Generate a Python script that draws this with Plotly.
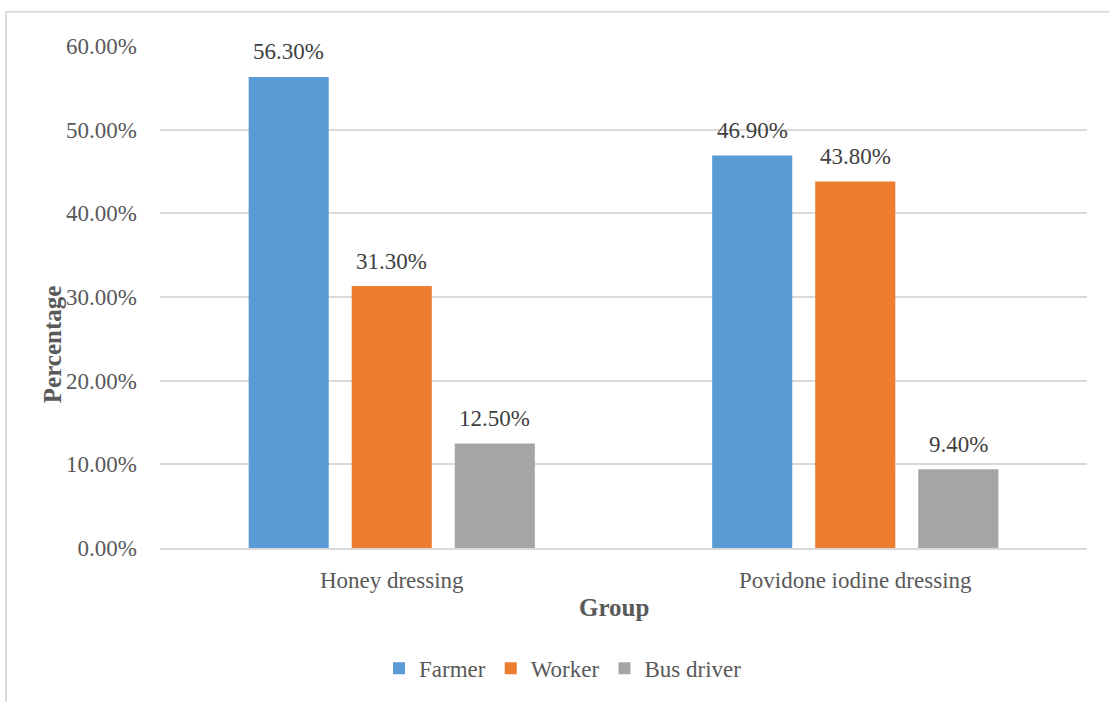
import plotly.graph_objects as go

# Occupation distribution by dressing group
groups = ["Honey dressing", "Povidone iodine dressing"]
series_names = ["Farmer", "Worker", "Bus driver"]
farmer = [56.3, 46.9]
worker = [31.3, 43.8]
bus_driver = [12.5, 9.4]
y_ticks = [0, 10, 20, 30, 40, 50, 60]

colors = ["#5B9BD5", "#ED7D31", "#A5A5A5"]
series_values = [farmer, worker, bus_driver]

FONT = "'Liberation Serif', 'Times New Roman', serif"
W, H = 1109, 702
L, R, T, B = 160, 22, 46, 151
BARGAP = 0.333
GROUPGAP = 0.223

fig = go.Figure()
for name, vals, col in zip(series_names, series_values, colors):
    fig.add_trace(go.Bar(
        name=name,
        x=groups,
        y=[v / 100 for v in vals],
        marker=dict(color=col, line=dict(width=0)),
    ))

# value labels above each bar
n = len(series_names)
slot = (1 - BARGAP) / n
annotations = []
for k, vals in enumerate(series_values):
    for i, v in enumerate(vals):
        annotations.append(dict(
            x=i + (k - (n - 1) / 2) * slot, xref="x",
            y=v / 100, yref="y",
            text=f"{v:.2f}%", showarrow=False,
            yanchor="middle", yshift=25,
            font=dict(family=FONT, size=23, color="#404040"),
        ))

def px_x(p):
    return (p - L) / (W - L - R)

def px_y(p):
    return (H - B - p) / (H - T - B)

# axis titles
annotations.append(dict(
    x=px_x(614), y=px_y(611), xref="paper", yref="paper",
    text="<b>Group</b>", showarrow=False, xanchor="center", yanchor="middle",
    font=dict(family=FONT, size=25, color="#595959"),
))
annotations.append(dict(
    x=px_x(52), y=px_y(346), xref="paper", yref="paper",
    text="<b>Percentage</b>", showarrow=False, textangle=-90,
    xanchor="center", yanchor="middle",
    font=dict(family=FONT, size=25, color="#595959"),
))

# chart-area frame (top and left edges)
border = dict(color="#D9D9D9", width=2)
shapes = [
    dict(type="line", xref="paper", yref="paper",
         x0=px_x(6), x1=px_x(W + 5), y0=px_y(11.5), y1=px_y(11.5), line=border),
    dict(type="line", xref="paper", yref="paper",
         x0=px_x(6), x1=px_x(6), y0=px_y(11.5), y1=px_y(H + 5), line=border),
]

fig.update_layout(
    width=W, height=H,
    margin=dict(l=L, r=R, t=T, b=B),
    paper_bgcolor="white", plot_bgcolor="white",
    barmode="group", bargap=BARGAP, bargroupgap=GROUPGAP,
    font=dict(family=FONT, size=23, color="#595959"),
    showlegend=True,
    legend=dict(
        orientation="h", x=px_x(563), y=px_y(672),
        xanchor="center", yanchor="middle",
        font=dict(family=FONT, size=23, color="#595959"),
        itemwidth=30, traceorder="normal",
    ),
    annotations=annotations,
    shapes=shapes,
)
fig.update_xaxes(
    showgrid=False, showline=True, linecolor="#D9D9D9", linewidth=2,
    ticks="", ticklabelstandoff=10,
    tickfont=dict(family=FONT, size=23, color="#595959"),
)
fig.update_yaxes(
    range=[0, 0.6], tickvals=[t / 100 for t in y_ticks], tickformat=".2%",
    showgrid=True, gridcolor="#D9D9D9", gridwidth=1.5,
    zeroline=False, showline=False, ticks="", ticklabelstandoff=22,
    tickfont=dict(family=FONT, size=23, color="#595959"),
)

fig.write_html("out.html")
